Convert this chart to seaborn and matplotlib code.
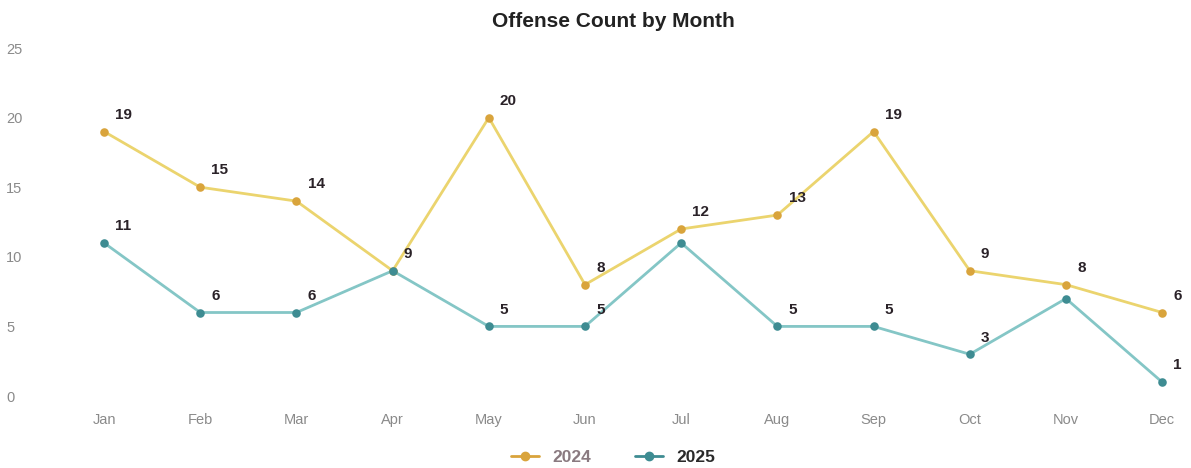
import matplotlib
matplotlib.use("Agg")
import matplotlib.pyplot as plt
import seaborn as sns
import pandas as pd
from matplotlib.lines import Line2D

months = ["Jan", "Feb", "Mar", "Apr", "May", "Jun", "Jul", "Aug", "Sep", "Oct", "Nov", "Dec"]
values_2024 = [19, 15, 14, 9, 20, 8, 12, 13, 19, 9, 8, 6]
values_2025 = [11, 6, 6, 9, 5, 5, 11, 5, 5, 3, 7, 1]
y_ticks = [0, 5, 10, 15, 20, 25]

sns.set_style("white")
plt.rcParams['font.family'] = ['Liberation Sans', 'DejaVu Sans']

fig = plt.figure(figsize=(11.91, 4.68), dpi=100)
ax = fig.add_axes([0.047, 0.1538, 0.953, 0.7436])

df = pd.DataFrame({
    "month": months * 2,
    "x": list(range(12)) * 2,
    "count": values_2024 + values_2025,
    "year": ["2024"] * 12 + ["2025"] * 12,
})

line_cols = {"2024": "#EBD46E", "2025": "#84C6C6"}
mark_cols = {"2024": "#D9A43C", "2025": "#3E8C92"}

for yr in ["2024", "2025"]:
    sub = df[df.year == yr]
    sns.lineplot(data=sub, x="x", y="count", ax=ax, color=line_cols[yr], linewidth=2,
                 sort=False, legend=False)
    sns.scatterplot(data=sub, x="x", y="count", ax=ax, color=mark_cols[yr], s=38,
                    edgecolor=mark_cols[yr], linewidth=0, legend=False, zorder=5, clip_on=False)

skip_2025 = {3, 6, 10}
for i, v in enumerate(values_2024):
    ax.annotate(str(v), (i, v), xytext=(8, 7), textcoords="offset points",
                fontsize=11, fontweight="bold", color="#2a2228", ha="left", va="bottom")
for i, v in enumerate(values_2025):
    if i in skip_2025:
        continue
    ax.annotate(str(v), (i, v), xytext=(8, 7), textcoords="offset points",
                fontsize=11, fontweight="bold", color="#2a2228", ha="left", va="bottom")

ax.set_xlim(-0.5, 11.3)
ax.set_ylim(0, 25)
ax.set_xticks(range(12))
ax.set_xticklabels(months, color="#8a8a8a", fontsize=10.5)
ax.set_yticks(y_ticks)
ax.set_yticklabels([str(t) for t in y_ticks], color="#8a8a8a", fontsize=10.5, ha="left")
ax.tick_params(axis="y", pad=36, length=0)
ax.tick_params(axis="x", pad=12, length=0)
ax.set_xlabel("")
ax.set_ylabel("")
for s in ax.spines.values():
    s.set_visible(False)

fig.text(0.515, 0.955, "Offense Count by Month", ha="center", va="center",
         fontsize=15, fontweight="heavy", color="#222222")

handles = [
    Line2D([0], [0], color=mark_cols["2024"], marker="o", markersize=6, linewidth=2),
    Line2D([0], [0], color=mark_cols["2025"], marker="o", markersize=6, linewidth=2),
]
leg = fig.legend(handles, ["2024", "2025"], loc="center", bbox_to_anchor=(0.515, 0.022),
                 ncol=2, frameon=False, handlelength=1.6, columnspacing=2.5,
                 prop={"weight": "bold", "size": 12.5})
leg.get_texts()[0].set_color("#8a7a80")
leg.get_texts()[1].set_color("#2a2a2a")

fig.savefig("out.png", dpi=100)
